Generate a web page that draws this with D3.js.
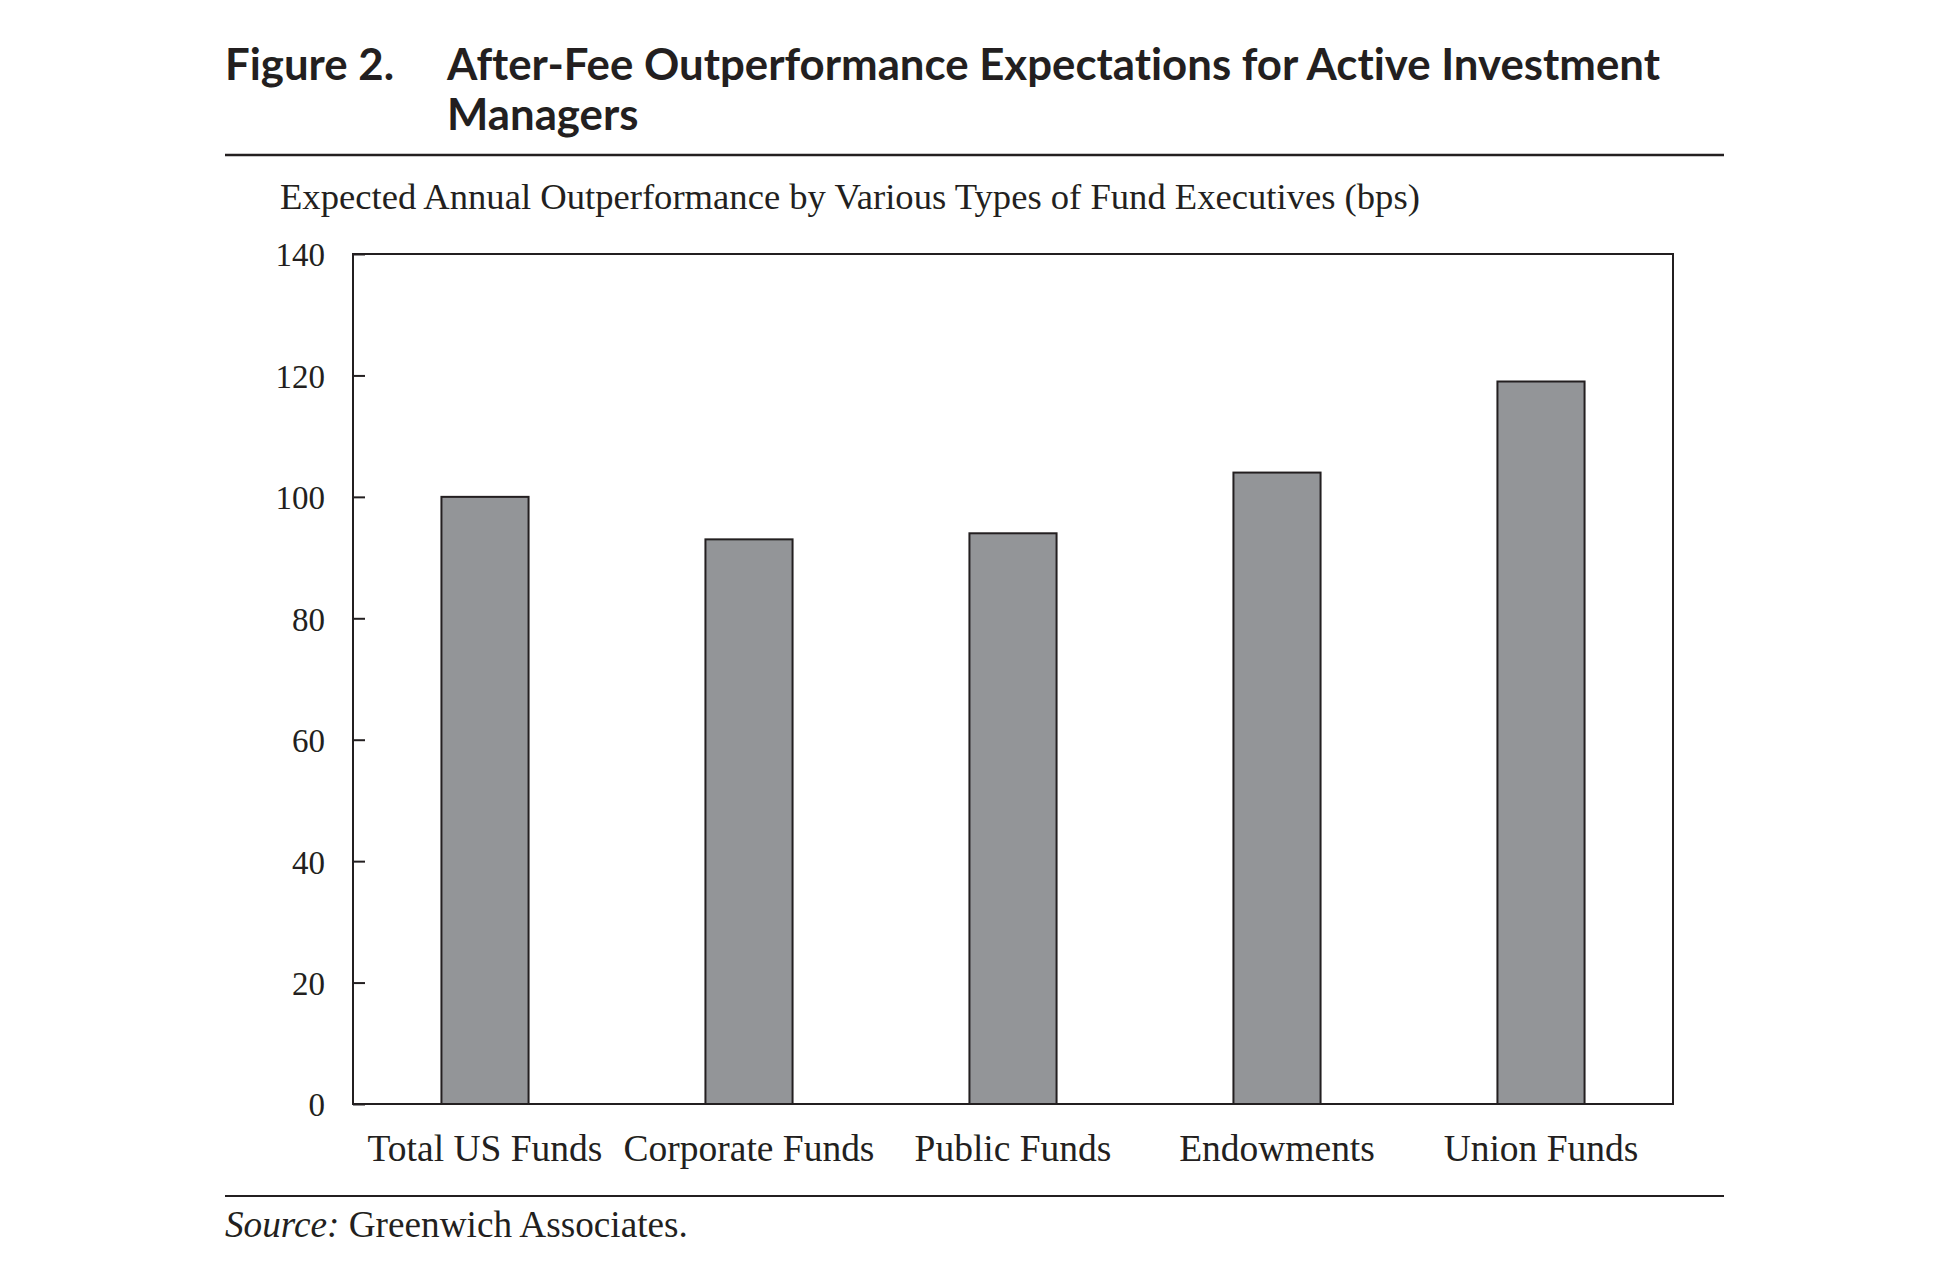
<!DOCTYPE html>
<html><head><meta charset="utf-8">
<script src="https://cdn.jsdelivr.net/npm/d3@7"></script>
<style>body{margin:0;background:#fff}svg{display:block}text{font-variant-ligatures:none;font-feature-settings:"liga" 0,"dlig" 0}</style>
</head><body>
<script>
const categories = ["Total US Funds","Corporate Funds","Public Funds","Endowments","Union Funds"];
const values = [100, 93, 94, 104, 119];
const yTicks = [0,20,40,60,80,100,120,140];
const titleLabel = "Figure 2.";
const titleLines = ["After-Fee Outperformance Expectations for Active Investment","Managers"];
const subtitle = "Expected Annual Outperformance by Various Types of Fund Executives (bps)";
const sourceLabel = "Source:";
const sourceText = " Greenwich Associates.";

(function(){
const W = 1952, H = 1275, ink = "#231f20";
const serif = "'Liberation Serif', 'DejaVu Serif', serif";
const sans = "Lato, 'Open Sans', 'Noto Sans', sans-serif";
const svg = d3.select("body").append("svg").attr("width", W).attr("height", H);

function fit(sel, target){
  const w = sel.node().getComputedTextLength();
  const fs = parseFloat(sel.attr("font-size"));
  sel.attr("font-size", fs * target / w);
  return fs * target / w;
}

// Title
const t1 = svg.append("text").attr("x",225).attr("y",80).attr("font-family",sans).attr("font-weight",700)
  .attr("font-size",40).attr("fill",ink).text(titleLabel);
const t2 = svg.append("text").attr("x",447).attr("y",80).attr("font-family",sans).attr("font-weight",700)
  .attr("font-size",40).attr("fill",ink).text(titleLines[0]);
const tfs = fit(t2, 1213);
t1.attr("font-size", tfs);
svg.append("text").attr("x",447).attr("y",130).attr("font-family",sans).attr("font-weight",700)
  .attr("font-size",tfs).attr("fill",ink).text(titleLines[1]);

svg.append("line").attr("x1",225).attr("x2",1724).attr("y1",155).attr("y2",155).attr("stroke",ink).attr("stroke-width",2.5);

const st = svg.append("text").attr("x",280).attr("y",209).attr("font-family",serif).attr("font-size",30)
  .attr("fill",ink).text(subtitle);
fit(st, 1140);

// Plot
const pL = 353, pR = 1673, pT = 254, pB = 1104;
const x = d3.scaleBand().domain(categories).range([pL,pR]).paddingInner(0.67).paddingOuter(0.335);
const y = d3.scaleLinear().domain([0,140]).range([pB, pT]);

svg.append("g").selectAll("rect").data(values).join("rect")
  .attr("x",(d,i)=>x(categories[i])).attr("width",x.bandwidth())
  .attr("y",d=>y(d)).attr("height",d=>y(0)-y(d))
  .attr("fill","#939598").attr("stroke",ink).attr("stroke-width",2);

svg.append("rect").attr("x",pL).attr("y",pT).attr("width",pR-pL).attr("height",pB-pT)
  .attr("fill","none").attr("stroke",ink).attr("stroke-width",2);

const yAxis = svg.append("g").attr("transform",`translate(${pL},0)`)
  .call(d3.axisRight(y).tickValues(yTicks).tickSize(12).tickFormat(""));
yAxis.select(".domain").remove();
yAxis.selectAll(".tick line").attr("stroke",ink).attr("stroke-width",2);

const labG = svg.append("g").attr("transform",`translate(${pL},0)`)
  .call(d3.axisLeft(y).tickValues(yTicks).tickSize(0).tickPadding(28).tickFormat(d3.format("d")));
labG.select(".domain").remove();
labG.selectAll("text").attr("font-family",serif).attr("font-size",33).attr("fill",ink).attr("dy","0.36em");

const xAxis = svg.append("g").attr("transform",`translate(0,${pB})`)
  .call(d3.axisBottom(x).tickSize(0).tickPadding(0));
xAxis.select(".domain").remove();
const xl = xAxis.selectAll("text").attr("font-family",serif).attr("font-size",32).attr("fill",ink)
  .attr("dy",0).attr("y",57);
const cf = xl.filter(d=>d==="Corporate Funds");
const xfs = fit(cf, 251);
xl.attr("font-size", xfs);

svg.append("line").attr("x1",225).attr("x2",1724).attr("y1",1196).attr("y2",1196).attr("stroke",ink).attr("stroke-width",2);

const src = svg.append("text").attr("x",225).attr("y",1237).attr("font-family",serif).attr("font-size",32).attr("fill",ink);
src.append("tspan").attr("font-style","italic").text(sourceLabel);
src.append("tspan").text(sourceText);
fit(src, 463);
})();
</script>
</body></html>
